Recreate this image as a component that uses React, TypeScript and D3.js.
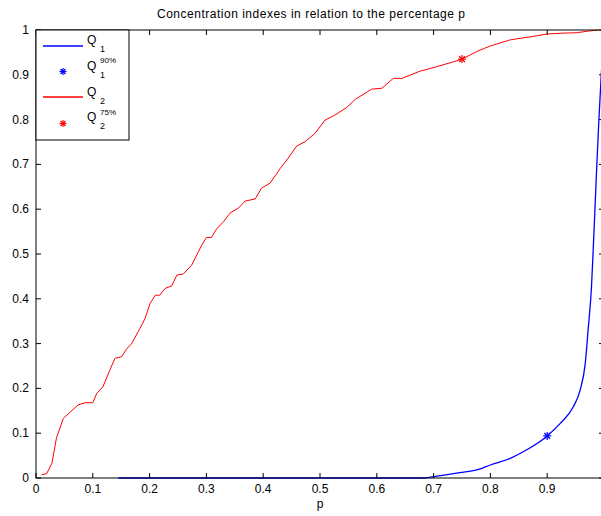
import React from "react";
import * as d3 from "d3";

const q2P = [0.01, 0.019, 0.028, 0.036, 0.048, 0.074, 0.086, 0.1, 0.107, 0.118, 0.13, 0.139, 0.151, 0.16, 0.168, 0.183, 0.192, 0.201, 0.21, 0.218, 0.227, 0.239, 0.248, 0.259, 0.274, 0.283, 0.292, 0.3, 0.309, 0.318, 0.33, 0.342, 0.356, 0.368, 0.386, 0.397, 0.412, 0.43, 0.444, 0.459, 0.474, 0.491, 0.509, 0.526, 0.547, 0.562, 0.591, 0.609, 0.629, 0.644, 0.676, 0.705, 0.735, 0.75, 0.776, 0.799, 0.835, 0.881, 0.899, 0.928, 0.952, 0.975, 0.99];
const q2V = [0.007, 0.01, 0.033, 0.089, 0.133, 0.163, 0.168, 0.168, 0.189, 0.204, 0.241, 0.267, 0.271, 0.289, 0.299, 0.334, 0.356, 0.39, 0.408, 0.408, 0.423, 0.429, 0.453, 0.455, 0.475, 0.498, 0.52, 0.537, 0.537, 0.556, 0.572, 0.592, 0.602, 0.618, 0.623, 0.647, 0.658, 0.691, 0.714, 0.741, 0.751, 0.769, 0.799, 0.81, 0.827, 0.845, 0.868, 0.87, 0.892, 0.892, 0.908, 0.918, 0.929, 0.935, 0.952, 0.964, 0.978, 0.987, 0.991, 0.993, 0.994, 0.998, 1.0];

const q1P = [0.145, 0.3, 0.5, 0.685, 0.7, 0.746, 0.776, 0.8, 0.835, 0.864, 0.9, 0.923, 0.946, 0.958, 0.967, 0.972, 0.978, 0.982, 0.987, 0.991, 0.995, 0.999];
const q1V = [0, 0, 0, 0, 0.003, 0.012, 0.018, 0.029, 0.044, 0.063, 0.094, 0.122, 0.159, 0.196, 0.256, 0.33, 0.427, 0.539, 0.688, 0.799, 0.896, 0.98];

const markP = [0.9, 0.75];
const markV = [0.094, 0.935];
const markColors = ["#0000ff", "#ff0000"];

const xTicks = [0, 0.1, 0.2, 0.3, 0.4, 0.5, 0.6, 0.7, 0.8, 0.9, 1];
const yTicks = [0, 0.1, 0.2, 0.3, 0.4, 0.5, 0.6, 0.7, 0.8, 0.9, 1];

const titleText = "Concentration indexes in relation to the percentage p";
const xLabel = "p";

const FONT = "Arial, 'Liberation Sans', sans-serif";

function Star({ cx, cy, r, color }: { cx: number; cy: number; r: number; color: string }) {
  const d = r * 0.72;
  return (
    <g stroke={color} strokeWidth={1.2}>
      <line x1={cx - r} y1={cy} x2={cx + r} y2={cy} />
      <line x1={cx} y1={cy - r} x2={cx} y2={cy + r} />
      <line x1={cx - d} y1={cy - d} x2={cx + d} y2={cy + d} />
      <line x1={cx - d} y1={cy + d} x2={cx + d} y2={cy - d} />
    </g>
  );
}

export default function App() {
  const W = 601, H = 516;
  const left = 36, right = 604, top = 30, bottom = 478;
  const x = d3.scaleLinear().domain([0, 1]).range([left, right]);
  const y = d3.scaleLinear().domain([0, 1]).range([bottom, top]);
  const line = d3.line<[number, number]>().x(d => x(d[0])).y(d => y(d[1]));
  const smooth = d3.line<[number, number]>().x(d => x(d[0])).y(d => y(d[1])).curve(d3.curveMonotoneX);
  const q2 = q2P.map((p, i) => [p, q2V[i]] as [number, number]);
  const q1 = q1P.map((p, i) => [p, q1V[i]] as [number, number]);
  const tl = 5;

  const legendRows = [
    { kind: "line", color: "#0000ff", sub: "1", sup: "" },
    { kind: "star", color: "#0000ff", sub: "1", sup: "90%" },
    { kind: "line", color: "#ff0000", sub: "2", sup: "" },
    { kind: "star", color: "#ff0000", sub: "2", sup: "75%" },
  ];

  return (
    <svg width={W} height={H} style={{ position: "absolute", left: 0, top: 0, background: "#fff" }} fontFamily={FONT}>
      <rect x={0} y={0} width={W} height={H} fill="#fff" />
      <text x={311} y={17.5} fontSize={12} textAnchor="middle" textLength={308} lengthAdjust="spacing" fill="#000">{titleText}</text>

      <defs>
        <clipPath id="plotclip">
          <rect x={left} y={top - 2} width={right - left} height={bottom - top + 3} />
        </clipPath>
      </defs>
      <g clipPath="url(#plotclip)">
        <path d={line(q2) || ""} fill="none" stroke="#ff0000" strokeWidth={1} />
        <path d={smooth(q1) || ""} fill="none" stroke="#0000ff" strokeWidth={1.3} />
        {markP.map((p, i) => (
          <Star key={i} cx={x(p)} cy={y(markV[i])} r={4} color={markColors[i]} />
        ))}
      </g>

      {/* frame */}
      <rect x={left} y={top} width={right - left} height={bottom - top} fill="none" stroke="#000" strokeWidth={1} />
      {xTicks.map(t => (
        <g key={"x" + t}>
          <line x1={x(t)} x2={x(t)} y1={bottom} y2={bottom - tl} stroke="#000" />
          <line x1={x(t)} x2={x(t)} y1={top} y2={top + tl} stroke="#000" />
          {t < 1 && (
            <text x={x(t)} y={492.5} fontSize={12} textAnchor="middle" fill="#000">{t === 0 ? "0" : d3.format(".1f")(t)}</text>
          )}
        </g>
      ))}
      {yTicks.map(t => (
        <g key={"y" + t}>
          <line x1={left} x2={left + tl} y1={y(t)} y2={y(t)} stroke="#000" />
          <line x1={right} x2={right - tl} y1={y(t)} y2={y(t)} stroke="#000" />
          <text x={29} y={y(t) + 4} fontSize={12} textAnchor="end" fill="#000">{t === 0 ? "0" : t === 1 ? "1" : d3.format(".1f")(t)}</text>
        </g>
      ))}
      <text x={x(0.5)} y={508} fontSize={12} textAnchor="middle" fill="#000">{xLabel}</text>

      {/* legend */}
      <rect x={left} y={top} width={93} height={110} fill="#fff" stroke="#000" strokeWidth={1} />
      {legendRows.map((r, i) => {
        const by = 44 + 25.8 * i;
        const my = Math.round(by + 1.5);
        return (
          <g key={i}>
            {r.kind === "line" ? (
              <line x1={43} x2={83} y1={my} y2={my} stroke={r.color} strokeWidth={1.6} />
            ) : (
              <Star cx={63} cy={my + 0.5} r={3.5} color={r.color} />
            )}
            <text x={87} y={by} fontSize={12} fill="#000">Q</text>
            <text x={100} y={by + 8} fontSize={9} fill="#000">{r.sub}</text>
            {r.sup && <text x={100} y={by - 6.5} fontSize={8} fill="#000">{r.sup}</text>}
          </g>
        );
      })}
    </svg>
  );
}
